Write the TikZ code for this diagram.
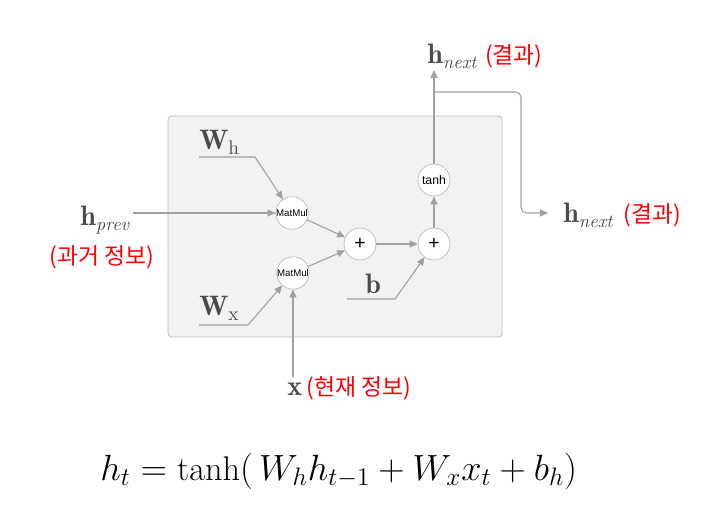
\documentclass[tikz,border=0pt]{standalone}
\usepackage{amsmath}
\usepackage{fontspec}
\setsansfont{Liberation Sans}
\newfontfamily\kofont{Noto Sans CJK KR}
\usepackage{xcolor}
\usetikzlibrary{arrows.meta,positioning}
\definecolor{linegray}{HTML}{A0A0A0}
\definecolor{labelgray}{HTML}{4A4A4A}
\newcommand{\lblsub}[1]{\text{\fontsize{10.5}{11}\selectfont\itshape #1}}

\begin{document}
\begin{tikzpicture}[x=0.02cm, y=-0.02cm,
    cellbox/.style={draw=gray!55, fill=gray!10, rounded corners=2pt, minimum width=6.68cm, minimum height=4.42cm},
    opnode/.style={circle, draw=gray!55, fill=white, minimum size=0.64cm, inner sep=0pt, font=\sffamily\fontsize{5.5}{6}\selectfont},
    flow/.style={draw=linegray, line width=0.6pt, -{Triangle[length=4.5pt, width=4pt]}},
    lbl/.style={text=labelgray, inner sep=0pt, font=\fontsize{16}{18}\selectfont},
    ko/.style={text=red, inner sep=0pt, font=\kofont\fontsize{13}{15}\selectfont},
]
    \useasboundingbox (0,0) rectangle (718,517);
    \node[cellbox] (cell) at (335,226.5) {};

    \node[opnode] (mmh) at (292,213) {MatMul};
    \node[opnode] (mmx) at (293,273) {MatMul};
    \node[opnode, font=\sffamily\fontsize{11}{12}\selectfont] (add1) at (360,244) {+};
    \node[opnode, font=\sffamily\fontsize{11}{12}\selectfont] (add2) at (434,244) {+};
    \node[opnode, font=\sffamily\fontsize{7}{8}\selectfont] (tanh) at (434,180) {tanh};

    % Inputs
    \node[lbl, anchor=base west] (wh) at (199,150) {$\mathbf{W}_{\mathrm{h}}$};
    \node[lbl, anchor=base west] (wx) at (199,316) {$\mathbf{W}_{\mathrm{x}}$};
    \node[lbl, anchor=base west] (bias) at (365,294) {$\mathbf{b}$};
    \node[lbl, anchor=base west] (hprev) at (80,226) {$\mathbf{h}_{\lblsub{prev}}$};
    \node[ko, anchor=base] (hprevko) at (102,265) {(과거 정보)};
    \node[lbl, anchor=base west] (xin) at (287,396) {$\mathbf{x}$};
    \node[ko, anchor=base west] (xko) at (306,396) {(현재 정보)};

    % Outputs
    \node[lbl, anchor=base west] (hnt) at (427,64) {$\mathbf{h}_{\lblsub{next}}$};
    \node[ko, anchor=base west, xshift=4pt] (hntko) at (hnt.base east) {(결과)};
    \node[lbl, anchor=base west] (hnr) at (563,223) {$\mathbf{h}_{\lblsub{next}}$};
    \node[ko, anchor=base west] (hnrko) at (623,223) {(결과)};

    \coordinate (whs) at (199,157);
    \coordinate (whk) at (255,157);
    \coordinate (wxs) at (199,325);
    \coordinate (wxk) at (248,325);
    \coordinate (bs) at (347,299);
    \coordinate (bk) at (395,299);
    \coordinate (hps) at (133,213);
    \coordinate (xs) at (293,377);
    \coordinate (hout) at (434,70);
    \coordinate (brk) at (434,92);
    \coordinate (hr) at (548,213);

    \draw[flow] (whs) -- (whk) -- (mmh);
    \draw[flow] (wxs) -- (wxk) -- (mmx);
    \draw[flow] (hps) -- (mmh);
    \draw[flow] (xs) -- (mmx);
    \draw[flow] (mmh) -- (add1);
    \draw[flow] (mmx) -- (add1);
    \draw[flow] (add1) -- (add2);
    \draw[flow] (bs) -- (bk) -- (add2);
    \draw[flow] (add2) -- (tanh);
    \draw[flow] (tanh) -- (hout);
    \draw[flow, rounded corners=3pt] (brk) -- (521,92) -- (521,213) -- (hr);

    % Formula
    \node[anchor=base west, inner sep=0pt, font=\fontsize{19.5}{23}\selectfont] (eq) at (100,480)
        {$h_t = \tanh(\,W_h h_{t-1} + W_x x_t + b_h)$};
\end{tikzpicture}
\end{document}
